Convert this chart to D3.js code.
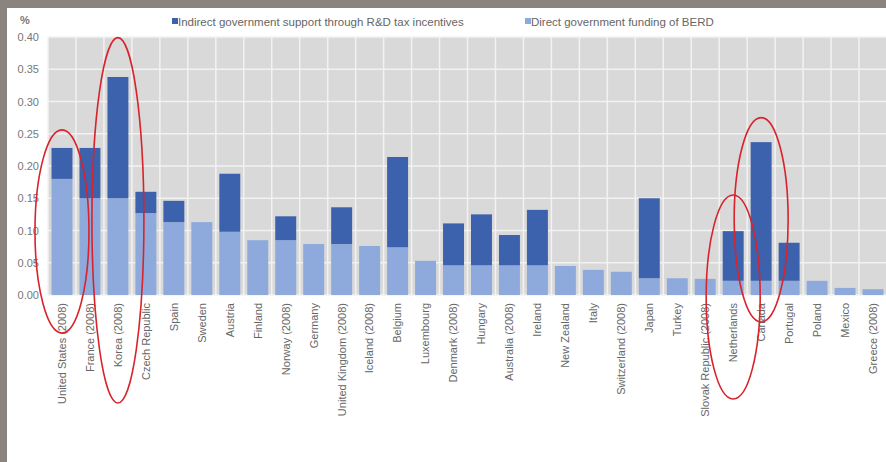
<!DOCTYPE html>
<html>
<head>
<meta charset="utf-8">
<script src="https://cdn.jsdelivr.net/npm/d3@7"></script>
<style>
  body { margin: 0; background: #fff; }
  svg { display: block; font-family: "Liberation Sans", Arial, sans-serif; }
</style>
</head>
<body>
<svg id="svg1"></svg>
<script>

var countries = ["United States (2008)", "France (2008)", "Korea (2008)", "Czech Republic", "Spain",
  "Sweden", "Austria", "Finland", "Norway (2008)", "Germany", "United Kingdom (2008)", "Iceland (2008)",
  "Belgium", "Luxembourg", "Denmark (2008)", "Hungary", "Australia (2008)", "Ireland", "New Zealand",
  "Italy", "Switzerland (2008)", "Japan", "Turkey", "Slovak Republic (2008)", "Netherlands", "Canada",
  "Portugal", "Poland", "Mexico", "Greece (2008)"];

// direct government funding of BERD (% of GDP)
var direct = [0.180, 0.150, 0.150, 0.127, 0.113, 0.113, 0.098, 0.085, 0.085, 0.079, 0.079, 0.076,
  0.074, 0.053, 0.046, 0.046, 0.046, 0.046, 0.045, 0.039, 0.036, 0.026, 0.026, 0.025, 0.022, 0.022,
  0.022, 0.022, 0.011, 0.009];

// indirect support through R&D tax incentives (% of GDP)
var indirect = [0.048, 0.078, 0.188, 0.033, 0.033, 0, 0.090, 0, 0.037, 0, 0.057, 0,
  0.140, 0, 0.065, 0.079, 0.047, 0.086, 0, 0, 0, 0.124, 0, 0, 0.077, 0.215,
  0.059, 0, 0, 0];

var yTicks = [0, 0.05, 0.10, 0.15, 0.20, 0.25, 0.30, 0.35, 0.40];

// red hand-drawn ellipses: country, top value, bottom pixel below axis
var marks = [
  {c: "United States (2008)", top: 0.256, below: 38, rx: 27},
  {c: "Korea (2008)", top: 0.399, below: 108, rx: 26},
  {c: "Netherlands", top: 0.155, below: 104, rx: 27},
  {c: "Canada", top: 0.275, below: 27, rx: 27}
];

var W = 886, H = 462;
var pLeft = 48, pRight = 887, pTop = 37, pBottom = 295;

var svg = d3.select("#svg1").attr("width", W).attr("height", H);

svg.append("rect").attr("width", W).attr("height", H).attr("fill", "#fff");
svg.append("rect").attr("width", W).attr("height", 8).attr("fill", "#8a837e");
svg.append("rect").attr("width", 7).attr("height", H).attr("fill", "#8a837e");

var x = d3.scaleBand().domain(countries).range([pLeft, pRight]).paddingInner(0.25).paddingOuter(0.125);
var y = d3.scaleLinear().domain([0, 0.40]).range([pBottom, pTop]);

// plot background
svg.append("rect")
  .attr("x", pLeft).attr("y", pTop)
  .attr("width", pRight - pLeft).attr("height", pBottom - pTop)
  .attr("fill", "#d9d9d9");

// gridlines
svg.append("g").selectAll("line").data(yTicks).enter().append("line")
  .attr("x1", pLeft).attr("x2", pRight)
  .attr("y1", function(d) { return y(d); }).attr("y2", function(d) { return y(d); })
  .attr("stroke", "#f2f2f2").attr("stroke-width", 1.5);

var step = x.step();
svg.append("g").selectAll("line").data(countries).enter().append("line")
  .attr("x1", function(d) { return x(d) - step * 0.125; })
  .attr("x2", function(d) { return x(d) - step * 0.125; })
  .attr("y1", pTop).attr("y2", pBottom)
  .attr("stroke", "#f2f2f2").attr("stroke-width", 1.5);

// bars
var data = countries.map(function(c, i) { return {c: c, d: direct[i], t: indirect[i]}; });

svg.append("g").selectAll("rect").data(data).enter().append("rect")
  .attr("x", function(d) { return x(d.c); })
  .attr("width", x.bandwidth())
  .attr("y", function(d) { return y(d.d); })
  .attr("height", function(d) { return y(0) - y(d.d); })
  .attr("fill", "#8eaadc");

svg.append("g").selectAll("rect").data(data.filter(function(d) { return d.t > 0; })).enter().append("rect")
  .attr("x", function(d) { return x(d.c); })
  .attr("width", x.bandwidth())
  .attr("y", function(d) { return y(d.d + d.t); })
  .attr("height", function(d) { return y(d.d) - y(d.d + d.t); })
  .attr("fill", "#3d62ad");

// y axis
var yAxis = svg.append("g")
  .attr("transform", "translate(" + (pLeft - 6) + ",0)")
  .call(d3.axisLeft(y).tickValues(yTicks).tickFormat(d3.format(".2f")).tickSize(0));
yAxis.select(".domain").remove();
yAxis.selectAll("text").attr("font-size", 11).attr("fill", "#777").attr("font-family", "Liberation Sans, Arial, sans-serif");

svg.append("text").attr("x", 25).attr("y", 24).attr("text-anchor", "middle")
  .attr("font-size", 11).attr("font-weight", "bold").attr("fill", "#777").text("%");

// x labels
var xAxis = svg.append("g")
  .attr("transform", "translate(0," + pBottom + ")")
  .call(d3.axisBottom(x).tickSize(0));
xAxis.select(".domain").remove();
xAxis.selectAll("text")
  .attr("font-size", 11).attr("fill", "#666").attr("font-family", "Liberation Sans, Arial, sans-serif")
  .attr("transform", "rotate(-90)")
  .attr("text-anchor", "end")
  .attr("x", -8).attr("y", 0).attr("dy", "0.35em");

// legend
var legend = [
  {label: "Indirect government support through R&D tax incentives", color: "#3d62ad", x: 172},
  {label: "Direct government funding of BERD", color: "#8eaadc", x: 525}
];
var lg = svg.append("g").selectAll("g").data(legend).enter().append("g")
  .attr("transform", function(d) { return "translate(" + d.x + ",22)"; });
lg.append("rect").attr("x", 0).attr("y", -4).attr("width", 6).attr("height", 6)
  .attr("fill", function(d) { return d.color; });
lg.append("text").attr("x", 6).attr("y", 0).attr("dy", "0.35em")
  .attr("font-size", 11.5).attr("fill", "#666")
  .text(function(d) { return d.label; });

// red annotation ellipses
svg.append("g").selectAll("ellipse").data(marks).enter().append("ellipse")
  .attr("cx", function(d) { return x(d.c) + x.bandwidth() / 2; })
  .attr("cy", function(d) { return (y(d.top) + pBottom + d.below) / 2; })
  .attr("rx", function(d) { return d.rx; })
  .attr("ry", function(d) { return (pBottom + d.below - y(d.top)) / 2; })
  .attr("fill", "none").attr("stroke", "#d8232a").attr("stroke-width", 1.6);

</script>
</body>
</html>
